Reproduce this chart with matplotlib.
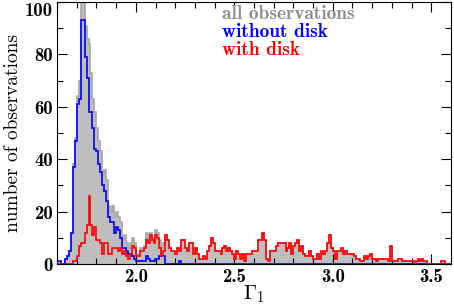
import numpy as np
import matplotlib.pyplot as plt

plt.rcParams["mathtext.fontset"] = "cm"

# Gamma_1 histograms, bin width 0.01 from 1.60 to 3.60
edges = np.round(np.linspace(1.60, 3.60, 201), 3)

n_without = [1, 1, 0, 0, 2, 3, 5, 12, 37, 47,
             61, 63, 93, 93, 79, 71, 58, 58, 52, 44,
             43, 38, 35, 30, 28, 24, 18, 16, 16, 12,
             14, 13, 10, 6, 6, 5, 4, 4, 3, 2,
             1, 1, 1, 1, 1, 3, 2, 1, 1, 1,
             2, 2, 3, 3, 3, 0, 0, 0, 0, 0,
             0, 0, 1, 0, 0, 0, 0, 0, 0, 0] + [0] * 130

n_with = [0, 0, 0, 0, 0, 0, 0, 0, 1, 1,
          3, 7, 8, 8, 12, 15, 26, 15, 11, 14,
          9, 9, 8, 4, 8, 8, 4, 4, 6, 6,
          6, 5, 6, 4, 5, 3, 2, 4, 7, 6,
          3, 3, 5, 5, 6, 9, 8, 11, 9, 8,
          11, 10, 6, 3, 5, 11, 9, 6, 5, 5,
          4, 6, 5, 9, 9, 6, 5, 8, 8, 4,
          6, 4, 2, 2, 3, 2, 5, 7, 10, 8,
          5, 5, 5, 4, 6, 7, 5, 6, 5, 4,
          2, 5, 4, 2, 4, 1, 4, 4, 4, 5,
          5, 5, 9, 9, 12, 9, 2, 1, 5, 5,
          5, 7, 8, 8, 8, 8, 5, 6, 8, 4,
          7, 8, 9, 5, 7, 4, 3, 3, 5, 3,
          2, 2, 4, 2, 5, 4, 5, 8, 11, 6,
          5, 2, 5, 5, 6, 4, 5, 4, 4, 4,
          4, 3, 2, 2, 1, 1, 3, 2, 3, 4,
          2, 2, 1, 2, 2, 2, 2, 2, 1, 7,
          1, 1, 1, 2, 2, 1, 1, 1, 1, 1,
          1, 0, 1, 2, 1, 2, 1, 1, 0, 0,
          0, 0, 0, 0, 0, 1, 1, 0, 0, 0]

n_all = [1, 1, 0, 0, 2, 3, 5, 12, 38, 48,
         64, 70, 101, 101, 91, 86, 84, 73, 63, 58,
         52, 47, 43, 34, 36, 32, 22, 20, 22, 18,
         20, 18, 16, 10, 11, 8, 6, 8, 10, 8,
         4, 4, 6, 6, 7, 12, 10, 12, 10, 9,
         13, 12, 9, 6, 8, 11, 9, 6, 5, 5,
         4, 6, 6, 9, 9, 6, 5, 8, 8, 4,
         6, 4, 2, 2, 3, 2, 5, 7, 10, 8,
         5, 5, 5, 4, 6, 7, 5, 6, 5, 4,
         2, 5, 4, 2, 4, 1, 4, 4, 4, 5,
         5, 5, 9, 9, 12, 9, 2, 1, 5, 5,
         5, 7, 8, 8, 8, 8, 5, 6, 8, 4,
         7, 8, 9, 5, 7, 4, 3, 3, 5, 3,
         2, 2, 4, 2, 5, 4, 5, 8, 11, 6,
         5, 2, 5, 5, 6, 4, 5, 4, 4, 4,
         4, 3, 2, 2, 1, 1, 3, 2, 3, 4,
         2, 2, 1, 2, 2, 2, 2, 2, 1, 7,
         1, 1, 1, 2, 2, 1, 1, 1, 1, 1,
         1, 0, 1, 2, 1, 2, 1, 1, 0, 0,
         0, 0, 0, 0, 0, 1, 1, 0, 0, 0]

fig = plt.figure(figsize=(4.54, 3.04), dpi=100)
ax = fig.add_axes([57/454, 1-264/304, 394/454, 262/304])

ax.stairs(n_all, edges, fill=True, color="#bebebe", zorder=1)
ax.stairs(n_all, edges, color="#a6a6a6", lw=1.2, zorder=2)
ax.stairs(n_without, edges, color="#0000ff", lw=1.2, zorder=3)
ax.stairs(n_with, edges, color="#ff0000", lw=1.2, zorder=4)

ax.set_xlim(1.6, 3.6)
ax.set_ylim(0, 100)
ax.set_xticks([2.0, 2.5, 3.0, 3.5])
ax.set_xticks(np.arange(1.6, 3.61, 0.1), minor=True)
ax.set_yticks([0, 20, 40, 60, 80, 100])
ax.set_yticks(np.arange(0, 101, 10), minor=True)
ax.tick_params(which="both", direction="in", top=True, right=True, width=0.8)
ax.tick_params(which="major", length=7, pad=3)
ax.tick_params(which="minor", length=4)
for lab in ax.get_xticklabels() + ax.get_yticklabels():
    lab.set_fontfamily("cmb10")
    lab.set_fontsize(13.5)
ax.yaxis.get_major_ticks()[-1].label1.set_verticalalignment("top")

ax.set_xlabel(r"$\Gamma_1$", fontsize=15, labelpad=-2)
ax.set_ylabel("number of observations", fontfamily="cmr10", fontsize=14, labelpad=2)

ax.text(0.418, 0.955, "all observations", color="#8c8c8c", family="cmb10", fontsize=14, transform=ax.transAxes, va="center")
ax.text(0.418, 0.885, "without disk", color="#0000ff", family="cmb10", fontsize=14, transform=ax.transAxes, va="center")
ax.text(0.418, 0.815, "with disk", color="#ff0000", family="cmb10", fontsize=14, transform=ax.transAxes, va="center")

fig.savefig("out.png", dpi=100)
